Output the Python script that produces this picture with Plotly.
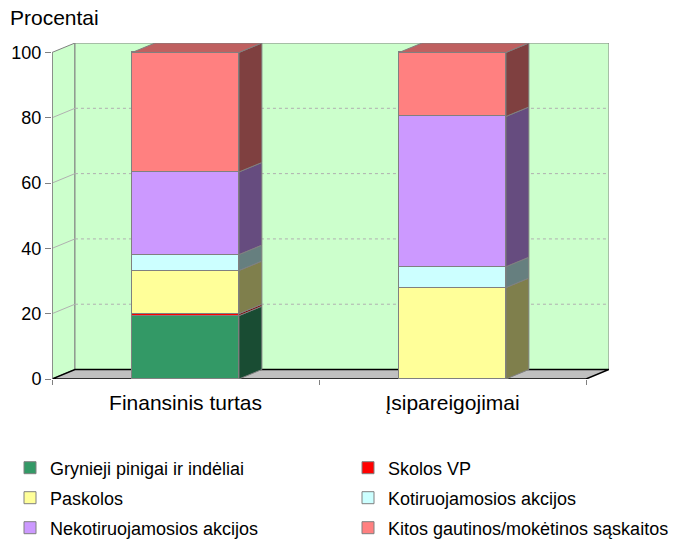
import plotly.graph_objects as go

# ---- data ----
categories = ["Finansinis turtas", "Įsipareigojimai"]
series_names = [
    "Grynieji pinigai ir indėliai",
    "Skolos VP",
    "Paskolos",
    "Kotiruojamosios akcijos",
    "Nekotiruojamosios akcijos",
    "Kitos gautinos/mokėtinos sąskaitos",
]
grynieji = [19.4, 0.0]
skolos_vp = [0.6, 0.0]
paskolos = [13.2, 28.0]
kotiruojamosios = [4.9, 6.4]
nekotiruojamosios = [25.3, 46.0]
kitos = [36.6, 19.6]
y_ticks = [0, 20, 40, 60, 80, 100]
y_title = "Procentai"

series_values = [grynieji, skolos_vp, paskolos, kotiruojamosios, nekotiruojamosios, kitos]
colors = ["#339966", "#FF0000", "#FFFF99", "#CCFFFF", "#CC99FF", "#FF8080"]

# ---- geometry / style ----
W = 0.4          # bar width (category units)
DX = 0.086       # depth offset x (category units)
DY = 2.9         # depth offset y (value units)
YMAX = 100
WALL = "#CCFFCC"
EDGE = "#808080"
FONT = "Liberation Sans, Arial, sans-serif"

FIG_W, FIG_H = 690, 540
ML, MR, MT, MB = 52, 81, 43, 161
PW = FIG_W - ML - MR
PH = FIG_H - MT - MB


def shade(hexcol, f):
    h = hexcol.lstrip("#")
    r, g, b = (int(h[i:i + 2], 16) for i in (0, 2, 4))
    return "#%02X%02X%02X" % (int(r * f), int(g * f), int(b * f))


xs = list(range(len(categories)))
fig = go.Figure()

legend_ids = ["legend", "legend2", "legend3", "legend4", "legend5", "legend6"]
for name, vals, col, lg in zip(series_names, series_values, colors, legend_ids):
    fig.add_trace(go.Bar(
        x=xs, y=vals, name=name, width=W,
        marker=dict(color=col, line=dict(color=EDGE, width=1)),
        legend=lg, hoverinfo="name+y",
    ))

shapes = []
x_left = -0.5
x_right = len(categories) - 0.5

# left side wall
shapes.append(dict(type="path", layer="below", xref="x", yref="y",
                   path=f"M {x_left},0 L {x_left+DX},{DY} L {x_left+DX},{YMAX+DY} L {x_left},{YMAX} Z",
                   fillcolor=WALL, line=dict(color=EDGE, width=1)))
# back wall
shapes.append(dict(type="rect", layer="below", xref="x", yref="y",
                   x0=x_left + DX, x1=x_right + DX, y0=DY, y1=YMAX + DY,
                   fillcolor=WALL, line=dict(color=EDGE, width=1)))
# gridlines on back wall + diagonals on side wall
for v in y_ticks[1:-1]:
    shapes.append(dict(type="line", layer="below", xref="x", yref="y",
                       x0=x_left + DX, x1=x_right + DX, y0=v + DY, y1=v + DY,
                       line=dict(color="#B0B0B0", width=1, dash="dot")))
    shapes.append(dict(type="line", layer="below", xref="x", yref="y",
                       x0=x_left, x1=x_left + DX, y0=v, y1=v + DY,
                       line=dict(color="#B0B0B0", width=1)))
# floor
shapes.append(dict(type="path", layer="below", xref="x", yref="y",
                   path=f"M {x_left},0 L {x_right},0 L {x_right+DX},{DY} L {x_left+DX},{DY} Z",
                   fillcolor="#C0C0C0", line=dict(color="#000000", width=1.5)))
# front-left axis line
shapes.append(dict(type="line", layer="above", xref="x", yref="y",
                   x0=x_left, x1=x_left, y0=0, y1=YMAX,
                   line=dict(color=EDGE, width=1.5)))

# bar side and top faces
for i, xc in enumerate(xs):
    base = 0.0
    top_col = None
    for vals, col in zip(series_values, colors):
        v = vals[i]
        if v <= 0:
            continue
        t = base + v
        x0 = xc + W / 2
        shapes.append(dict(type="path", layer="above", xref="x", yref="y",
                           path=f"M {x0},{base} L {x0+DX},{base+DY} L {x0+DX},{t+DY} L {x0},{t} Z",
                           fillcolor=shade(col, 0.5), line=dict(color=EDGE, width=1)))
        base = t
        top_col = col
    xl = xc - W / 2
    xr = xc + W / 2
    shapes.append(dict(type="path", layer="above", xref="x", yref="y",
                       path=f"M {xl},{base} L {xl+DX},{base+DY} L {xr+DX},{base+DY} L {xr},{base} Z",
                       fillcolor=shade(top_col, 0.75), line=dict(color=EDGE, width=1)))


def px_to_paper_x(px):
    return (px - ML) / PW


def px_to_paper_y(py):
    return (FIG_H - MB - py) / PH


annotations = [dict(text=y_title, xref="paper", yref="paper",
                    x=px_to_paper_x(8), y=px_to_paper_y(4),
                    xanchor="left", yanchor="top", showarrow=False,
                    font=dict(size=21, color="black", family=FONT))]

legend_common = dict(orientation="v", xref="container", yref="container",
                     xanchor="left", yanchor="middle",
                     font=dict(size=18, color="black", family=FONT),
                     bgcolor="rgba(0,0,0,0)")
rows_y = [468, 498, 528]
cols_x = [10, 348]
legend_layout = {}
for k, lg in enumerate(legend_ids):
    r, c = divmod(k, 2)
    legend_layout[lg] = dict(x=cols_x[c] / FIG_W, y=1 - rows_y[r] / FIG_H, **legend_common)

fig.update_layout(
    width=FIG_W, height=FIG_H,
    margin=dict(l=ML, r=MR, t=MT, b=MB, pad=0, autoexpand=False),
    paper_bgcolor="white", plot_bgcolor="rgba(0,0,0,0)",
    barmode="stack", bargap=0,
    font=dict(family=FONT, color="black"),
    showlegend=True,
    xaxis=dict(range=[x_left, x_right + DX], tickmode="array", tickvals=xs,
               ticktext=categories, ticks="", showgrid=False, zeroline=False,
               showline=False, tickfont=dict(size=21), fixedrange=True,
               ticklabelstandoff=9,
               minor=dict(tickmode="array", tickvals=[x_left + k for k in range(len(categories) + 1)],
                          ticks="outside", ticklen=5, tickcolor=EDGE, showgrid=False)),
    yaxis=dict(range=[0, YMAX + DY], tickmode="array", tickvals=y_ticks,
               ticks="outside", ticklen=6, tickcolor=EDGE, showgrid=False,
               zeroline=False, showline=False, tickfont=dict(size=18), fixedrange=True),
    shapes=shapes,
    annotations=annotations,
    **legend_layout,
)

fig.write_html("out.html", config={"displayModeBar": False},
               post_script="document.body.style.margin='0';")
